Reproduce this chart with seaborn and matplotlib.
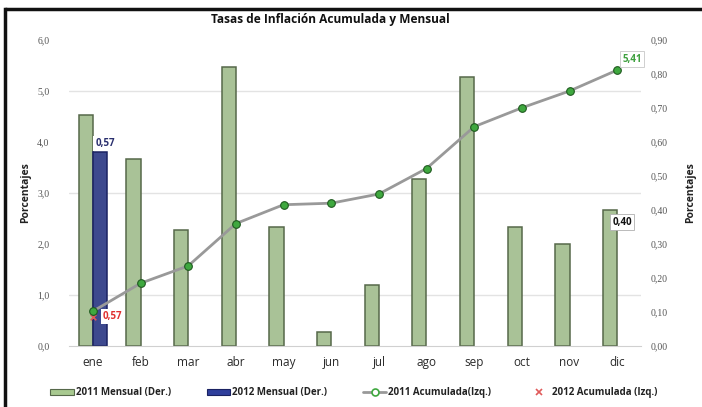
import matplotlib.pyplot as plt
import seaborn as sns
import pandas as pd
import numpy as np
from matplotlib.patches import Patch
from matplotlib.lines import Line2D
from matplotlib.ticker import FuncFormatter

# datos
meses = ['ene', 'feb', 'mar', 'abr', 'may', 'jun', 'jul', 'ago', 'sep', 'oct', 'nov', 'dic']
mensual_2011 = [0.68, 0.55, 0.34, 0.82, 0.35, 0.04, 0.18, 0.49, 0.79, 0.35, 0.30, 0.40]
mensual_2012 = [0.57]
acumulada_2011 = [0.68, 1.23, 1.57, 2.40, 2.77, 2.80, 2.98, 3.48, 4.30, 4.67, 5.00, 5.41]
acumulada_2012 = [0.57]
series_bar = ['2011 Mensual (Der.)', '2012 Mensual (Der.)']
series_lin = ['2011 Acumulada(Izq.)', '2012 Acumulada (Izq.)']

verde = '#a8c990'
verde_borde = '#56684a'
azul = '#2f3f9c'
azul_borde = '#1a2262'
gris_linea = '#999999'
punto = '#3fa83f'
rojo = '#e05a5a'

# tabla para las barras (2012 solo tiene enero)
df_bar = pd.DataFrame({
    'mes': meses * 2,
    'valor': mensual_2011 + mensual_2012 + [np.nan] * (len(meses) - len(mensual_2012)),
    'serie': [series_bar[0]] * len(meses) + [series_bar[1]] * len(meses),
})
df_lin = pd.DataFrame({'pos': range(len(meses)), 'valor': acumulada_2011})
df_lin12 = pd.DataFrame({'pos': range(len(acumulada_2012)), 'valor': acumulada_2012})

sns.set_style('white')
plt.rcParams['font.family'] = ['Open Sans', 'DejaVu Sans']

fig = plt.figure(figsize=(7.02, 4.07), dpi=100)
ax = fig.add_axes([69 / 702, 1 - 346 / 407, 572 / 702, 306 / 407])

# barras mensuales (eje derecho)
sns.barplot(data=df_bar, x='mes', y='valor', hue='serie', order=meses, hue_order=series_bar,
            palette=[verde, azul], width=0.6, errorbar=None, legend=False, ax=ax)
for cont, borde in zip(ax.containers, [verde_borde, azul_borde]):
    for p in cont:
        p.set_edgecolor(borde)
        p.set_linewidth(1.1)

ax2 = ax.twinx()

ax.set_ylim(0, 0.9)
ax.set_xlim(-0.5, 11.5)
ax.set_yticks(np.arange(0, 0.91, 0.1))
ax.set_yticks(np.arange(0, 0.91, 0.15), minor=True)
ax.yaxis.tick_right()
ax.yaxis.set_label_position('right')
ax.grid(which='minor', axis='y', color='#e3e3e3', linewidth=1)
ax.set_axisbelow(True)
ax.yaxis.set_major_formatter(FuncFormatter(lambda v, p: f'{v:.2f}'.replace('.', ',')))
ax.tick_params(axis='y', which='both', length=0, pad=7, labelsize=7, labelcolor='#555555',
               labelfontfamily='Liberation Serif')
ax.tick_params(axis='x', length=0, pad=7, labelsize=8.5, labelcolor='#2a2a2a')
ax.set_xlabel('')
ax.set_ylabel('Porcentajes', fontsize=7.5, fontweight='bold', color='#222222')
ax.yaxis.set_label_coords(1.077, 0.5)
for s in ['top', 'left', 'right']:
    ax.spines[s].set_visible(False)
ax.spines['bottom'].set_color('#d0d0d0')

# linea acumulada (eje izquierdo)
sns.lineplot(data=df_lin, x='pos', y='valor', color=gris_linea, linewidth=2,
             marker='o', markersize=5.5, markerfacecolor=punto, markeredgecolor='#1f5a1f',
             markeredgewidth=0.8, ax=ax2)
sns.scatterplot(data=df_lin12, x='pos', y='valor', marker='x', color=rojo, s=16,
                linewidth=1.2, ax=ax2, zorder=1)
ax2.set_ylim(0, 6)
ax2.set_xlim(-0.5, 11.5)
ax2.set_yticks(np.arange(0, 6.1, 1))
ax2.yaxis.tick_left()
ax2.yaxis.set_label_position('left')
ax2.yaxis.set_major_formatter(FuncFormatter(lambda v, p: f'{v:.1f}'.replace('.', ',')))
ax2.tick_params(axis='y', length=0, pad=14, labelsize=7, labelcolor='#555555',
                labelfontfamily='Liberation Serif')
ax2.set_xlabel('')
ax2.set_ylabel('Porcentajes', fontsize=7.5, fontweight='bold', color='#222222')
ax2.yaxis.set_label_coords(-0.066, 0.5)
for s in ax2.spines.values():
    s.set_visible(False)

# etiquetas de datos
caja = dict(boxstyle='square,pad=0.2', facecolor='white', edgecolor='none')
ax.annotate(f'{mensual_2012[0]:.2f}'.replace('.', ','), xy=(0.15, mensual_2012[0]),
            xytext=(5, 3), textcoords='offset pixels', ha='center', va='bottom',
            fontsize=7, fontweight='bold', color='#2a2f6e', bbox=caja)
ax2.annotate(f'{acumulada_2012[0]:.2f}'.replace('.', ','), xy=(0, acumulada_2012[0]),
             xytext=(20, 0), textcoords='offset pixels', ha='center', va='center',
             fontsize=7, fontweight='bold', color='#e03030', bbox=caja)
ax2.annotate(f'{acumulada_2011[-1]:.2f}'.replace('.', ','), xy=(11, acumulada_2011[-1]),
             xytext=(15, 11), textcoords='offset pixels', ha='center', va='center',
             fontsize=7, fontweight='bold', color='#3fa03f',
             bbox=dict(boxstyle='square,pad=0.25', facecolor='white', edgecolor='#c8c8c8', linewidth=0.6))
ax.annotate(f'{mensual_2011[-1]:.2f}'.replace('.', ','), xy=(11, mensual_2011[-1]),
            xytext=(5, -12), textcoords='offset pixels', ha='center', va='center',
            fontsize=7, fontweight='bold', color='#111111',
            bbox=dict(boxstyle='square,pad=0.25', facecolor='white', edgecolor='#b0b0b0', linewidth=0.6))

# titulo
fig.text(330 / 702, 1 - 20 / 407, 'Tasas de Inflación Acumulada y Mensual',
         ha='center', va='center', fontsize=8.6, fontweight='bold', color='#111111')

# leyenda
handles = [
    Patch(facecolor=verde, edgecolor=verde_borde, linewidth=0.8),
    Patch(facecolor=azul, edgecolor=azul_borde, linewidth=0.8),
    Line2D([], [], color=gris_linea, linewidth=2, marker='o', markersize=5,
           markerfacecolor='white', markeredgecolor=punto, markeredgewidth=1.2),
    Line2D([], [], color=rojo, linestyle='none', marker='x', markersize=4, markeredgewidth=1.2),
]
leg = fig.legend(handles, series_bar + series_lin, loc='center', ncol=4,
                 bbox_to_anchor=(354 / 702, 1 - 393 / 407), frameon=False,
                 prop={'size': 7, 'weight': 'bold'}, handlelength=2.4, handleheight=0.5,
                 handletextpad=0.2, columnspacing=3.7)
for t in leg.get_texts():
    t.set_color('#222222')

# marco exterior: solo borde superior e izquierdo
y_top = 1 - 9 / 407
x_left = 5 / 702
fig.add_artist(Line2D([x_left, 1.01], [y_top, y_top], transform=fig.transFigure,
                      color='#111111', linewidth=2.5, solid_capstyle='butt'))
fig.add_artist(Line2D([x_left, x_left], [-0.01, y_top], transform=fig.transFigure,
                      color='#111111', linewidth=2.5, solid_capstyle='projecting'))

fig.savefig('out.png', dpi=100)
